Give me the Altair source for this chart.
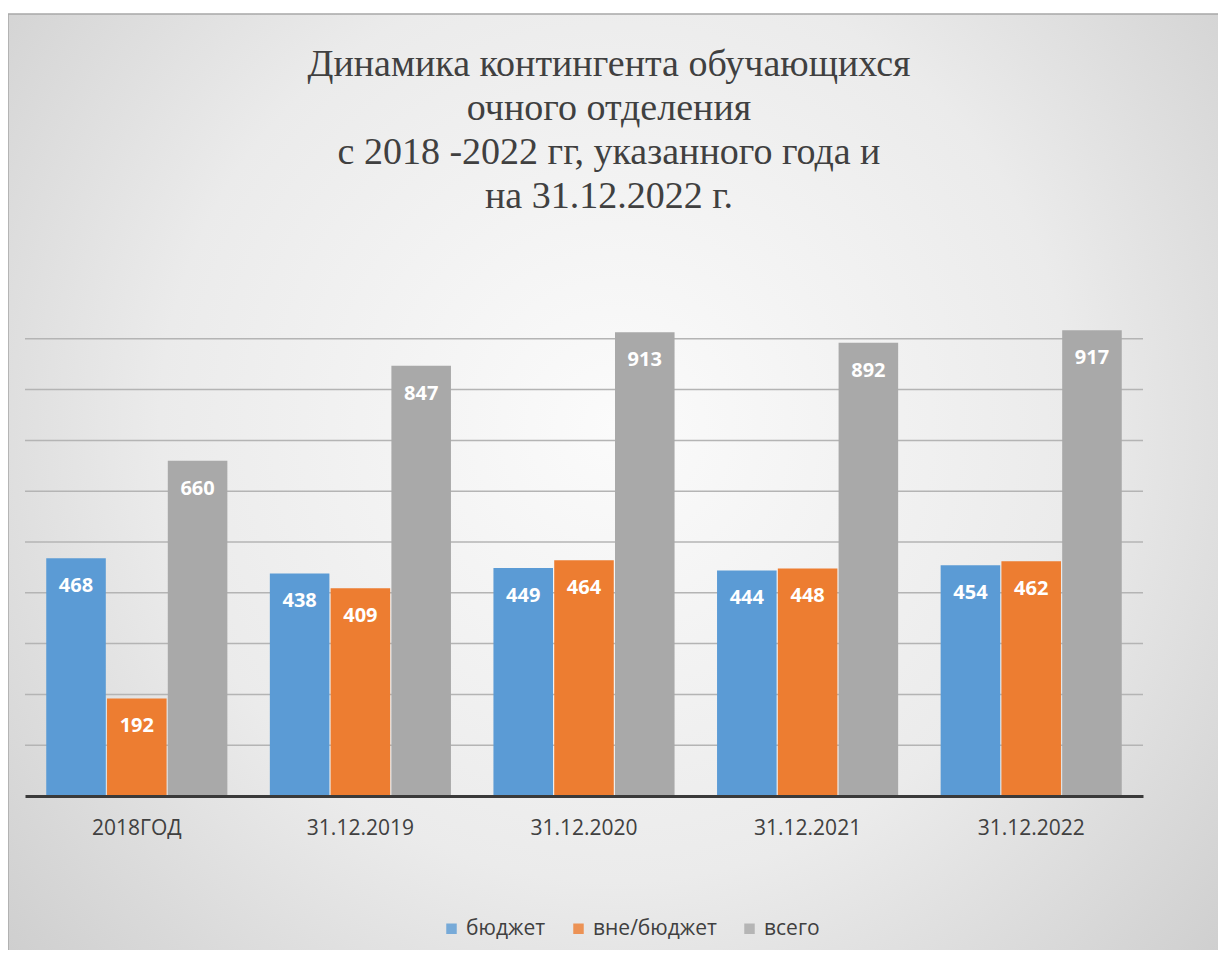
import altair as alt
import pandas as pd

categories = ["2018ГОД", "31.12.2019", "31.12.2020", "31.12.2021", "31.12.2022"]
series = ["бюджет", "вне/бюджет", "всего"]
budget = [468, 438, 449, 444, 454]
extra = [192, 409, 464, 448, 462]
total = [660, 847, 913, 892, 917]
grid_values = [100, 200, 300, 400, 500, 600, 700, 800, 900]
colors = ["#5B9BD5", "#ED7D31", "#A9A9A9"]
title_lines = ["Динамика контингента обучающихся", "очного отделения",
               "с 2018 -2022 гг, указанного года и", "на 31.12.2022 г."]

rows = []
for i, c in enumerate(categories):
    for s, vals in zip(series, [budget, extra, total]):
        rows.append({"cat": c, "series": s, "value": vals[i]})
df = pd.DataFrame(rows)

W, H = 1118, 508
yscale = alt.Scale(domain=[0, 1000])
SANS = "Open Sans"

bg = alt.Chart(pd.DataFrame({"a": [0]})).mark_rect(
    fill=alt.Gradient(
        gradient="radial",
        stops=[alt.GradientStop(color="#fbfbfb", offset=0),
               alt.GradientStop(color="#ebebeb", offset=0.5),
               alt.GradientStop(color="#c6c6c6", offset=1)],
        x1=0.5, y1=0.45, r1=0, x2=0.5, y2=0.45, r2=0.75),
    stroke="#a8a8a8", strokeWidth=1.5
).encode(x=alt.value(-17), x2=alt.value(1200), y=alt.value(-274), y2=alt.value(670))

grid = alt.Chart(pd.DataFrame({"g": grid_values})).mark_rule(
    color="#b4b4b4", strokeWidth=1.5
).encode(y=alt.Y("g:Q", scale=yscale, title=None, axis=None),
         x=alt.value(0), x2=alt.value(W))

xenc = alt.X("cat:N", sort=categories, title=None,
             scale=alt.Scale(paddingInner=0.19, paddingOuter=0.095),
             axis=alt.Axis(labelAngle=0, ticks=False, domainColor="#3a3a3a", domainWidth=3,
                           labelFont=SANS, labelFontSize=21, labelColor="#404040",
                           labelPadding=21, grid=False, zindex=1))
xoff = alt.XOffset("series:N", sort=series, scale=alt.Scale(paddingInner=0.02))
yenc = alt.Y("value:Q", scale=yscale, title=None, axis=None)

bars = alt.Chart(df).mark_bar().encode(
    x=xenc, xOffset=xoff, y=yenc,
    color=alt.Color("series:N", sort=series, scale=alt.Scale(domain=series, range=colors),
                    legend=alt.Legend(title=None, orient="none", direction="horizontal",
                                      legendX=416, legendY=630, symbolType="square",
                                      symbolSize=110, symbolStrokeWidth=0,
                                      labelFont=SANS, labelFontSize=21,
                                      labelColor="#404040", columnPadding=22,
                                      symbolOpacity=0.8)))

labels = alt.Chart(df).mark_text(
    dy=28, baseline="middle", color="white", fontWeight="bold", font=SANS, fontSize=20
).encode(x=xenc, xOffset=xoff, y=yenc, text="value:Q")

chart = alt.layer(bg, grid, bars, labels).properties(
    width=W, height=H,
    autosize=alt.AutoSizeParams(type="none"),
    padding={"left": 17, "top": 280, "right": 75, "bottom": 154},
    title=alt.TitleParams(text=title_lines,
                          font="'Liberation Serif', 'Times New Roman', 'DejaVu Serif', serif",
                          fontSize=38, fontWeight="normal", color="#404040", lineHeight=44,
                          anchor="middle", dx=25, offset=-203),
).configure_view(stroke=None)

chart.save("out.html", embed_options={"renderer": "svg", "actions": False})
